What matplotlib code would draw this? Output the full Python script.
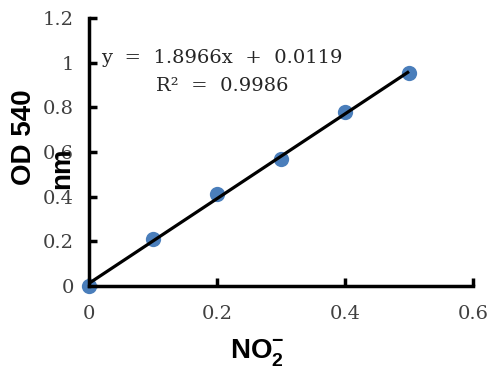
import matplotlib
matplotlib.use("Agg")
import matplotlib.pyplot as plt
import numpy as np

plt.rcParams['mathtext.fontset'] = 'custom'
plt.rcParams['mathtext.bf'] = 'Liberation Sans:bold'
plt.rcParams['mathtext.rm'] = 'Liberation Sans'

no2 = [0.0, 0.1, 0.2, 0.3, 0.4, 0.5]
od540 = [0.0, 0.21, 0.41, 0.57, 0.78, 0.955]
slope = 1.8966
intercept = 0.0119
r2 = 0.9986
xticks = [0, 0.2, 0.4, 0.6]
xticklabels = ["0", "0.2", "0.4", "0.6"]
yticks = [0, 0.2, 0.4, 0.6, 0.8, 1.0, 1.2]
yticklabels = ["0", "0.2", "0.4", "0.6", "0.8", "1", "1.2"]

W, H = 492, 369
fig = plt.figure(figsize=(4.92, 3.69), dpi=100)
ax = fig.add_axes([89/W, 1 - 286/H, (473-89)/W, (286-18)/H])

ax.plot(no2, od540, 'o', color='#4a7ebb', markersize=11, markeredgewidth=0,
        zorder=2, clip_on=False)
xl = np.array([no2[0], no2[-1]])
ax.plot(xl, slope * xl + intercept, color='black', lw=2.3, zorder=3,
        clip_on=False, solid_capstyle='butt')

ax.set_xlim(0, 0.6)
ax.set_ylim(0, 1.2)
for s in ['top', 'right']:
    ax.spines[s].set_visible(False)
for s in ['left', 'bottom']:
    ax.spines[s].set_linewidth(2.5)
ax.set_xticks(xticks)
ax.set_xticklabels(xticklabels)
ax.set_yticks(yticks)
ax.set_yticklabels(yticklabels)
ax.tick_params(direction='in', length=6, width=2.5, labelsize=14, colors='black')
ax.tick_params(axis='x', pad=14)
ax.tick_params(axis='y', pad=11)
for lab in ax.get_xticklabels() + ax.get_yticklabels():
    lab.set_fontfamily('DejaVu Serif')
    lab.set_color('#404040')

fig.text(101/W, 1 - 58/H, f"y  =  {slope}x  +  {intercept}", fontsize=14,
         family='DejaVu Serif', va='center', ha='left', color='#262626')
fig.text(156/W, 1 - 86/H, f"R²  =  {r2}", fontsize=14,
         family='DejaVu Serif', va='center', ha='left', color='#262626')

fig.text(24/W, 1 - 137/H, "OD 540", rotation=90, fontsize=20,
         fontweight='bold', family='Liberation Sans', ha='center', va='center')
fig.text(62/W, 1 - 168/H, "nm", rotation=90, fontsize=20,
         fontweight='bold', family='Liberation Sans', ha='center', va='center')
fig.text(257/W, 1 - 358/H, r"$\mathbf{NO}_{\mathbf{2}}^{\mathbf{-}}$", fontsize=20,
         ha='center', va='baseline')

fig.savefig("out.png", dpi=100)
